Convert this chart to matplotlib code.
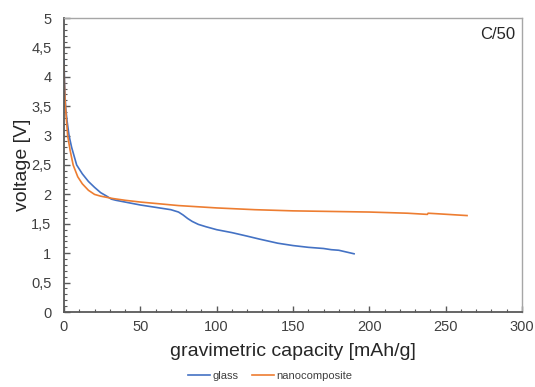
import matplotlib.pyplot as plt
from matplotlib.ticker import MultipleLocator, FuncFormatter

plt.rcParams['font.family'] = ['Liberation Sans', 'DejaVu Sans']

# glass (blue)
glass_x = [0, 0.3, 0.7, 1.2, 2, 3.3, 5, 8.3, 12, 16, 20, 24, 28, 31, 34, 40, 50, 60, 70, 75,
           78, 81, 84, 88, 93, 100, 110, 120, 128, 140, 150, 160, 170, 175, 180, 185, 190]
glass_y = [4.3, 3.95, 3.65, 3.45, 3.25, 3.0, 2.8, 2.5, 2.35, 2.22, 2.12, 2.03, 1.97, 1.92, 1.90,
           1.87, 1.82, 1.78, 1.74, 1.70, 1.65, 1.59, 1.54, 1.49, 1.45, 1.40, 1.35, 1.29, 1.24,
           1.17, 1.13, 1.10, 1.08, 1.06, 1.05, 1.02, 0.99]

# nanocomposite (orange)
nano_x = [0, 0.3, 0.7, 1.2, 2.4, 4, 6, 9, 12, 16, 20, 24, 28, 32, 40, 50, 75, 100, 125, 150,
          175, 200, 225, 238, 238.5, 245, 264]
nano_y = [4.2, 3.85, 3.6, 3.4, 3.0, 2.75, 2.5, 2.3, 2.18, 2.07, 2.0, 1.97, 1.95, 1.93, 1.9,
          1.87, 1.81, 1.77, 1.74, 1.72, 1.71, 1.70, 1.68, 1.66, 1.68, 1.67, 1.64]

fig = plt.figure(figsize=(5.35, 3.87), dpi=100)
ax = fig.add_axes([64 / 535, 1 - 312 / 387, 458 / 535, 294 / 387])

ax.plot(glass_x, glass_y, color='#4472C4', lw=1.2, label='glass')
ax.plot(nano_x, nano_y, color='#ED7D31', lw=1.2, label='nanocomposite')

ax.set_xlim(0, 300)
ax.set_ylim(0, 5)
ax.xaxis.set_major_locator(MultipleLocator(50))
ax.xaxis.set_minor_locator(MultipleLocator(10))
ax.yaxis.set_major_locator(MultipleLocator(0.5))
ax.yaxis.set_minor_locator(MultipleLocator(0.1))
ax.yaxis.set_major_formatter(FuncFormatter(lambda v, p: ('%g' % v).replace('.', ',')))
ax.tick_params(which='both', direction='in', top=False, right=False, colors='#595959',
               labelcolor='#404040', labelsize=10.5)
ax.tick_params(which='major', length=4, width=1)
ax.tick_params(which='minor', length=2.5, width=0.8)
ax.tick_params(axis='x', pad=6)
ax.tick_params(axis='y', pad=9)

for s in ['left', 'bottom']:
    ax.spines[s].set_color('#595959')
    ax.spines[s].set_linewidth(1.3)
for s in ['top', 'right']:
    ax.spines[s].set_color('#A6A6A6')
    ax.spines[s].set_linewidth(1)

ax.set_xlabel('gravimetric capacity [mAh/g]', fontsize=14, color='#262626', labelpad=6)
ax.set_ylabel('voltage [V]', fontsize=14, color='#262626', labelpad=0)
ax.text(0.985, 0.97, 'C/50', transform=ax.transAxes, ha='right', va='top',
        fontsize=12, color='#262626')

fig.legend(loc='center', bbox_to_anchor=(0.505, 1 - 376 / 387), ncol=2, frameon=False,
           fontsize=8, handlelength=2, handletextpad=0.2, columnspacing=1.2,
           labelcolor='#404040')

fig.savefig('out.png', dpi=100)
